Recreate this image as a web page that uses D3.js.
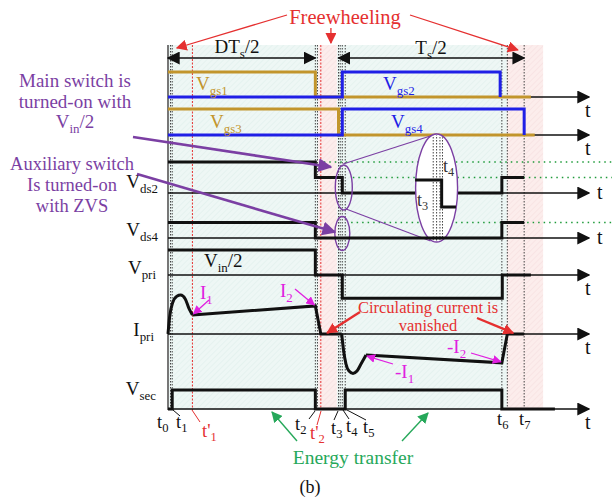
<!DOCTYPE html>
<html>
<head>
<meta charset="utf-8">
<script src="https://cdn.jsdelivr.net/npm/d3@7"></script>
<style>
  body { margin: 0; background: #fff; }
  svg { display: block; font-family: "Liberation Serif", "DejaVu Serif", serif; }
</style>
</head>
<body>
<div id="chart"></div>
<script>
const W = 612, H = 500

// time in arbitrary units: 0 = t0, 100 = tip of the "t" arrows
const gridTimes = [0.6, 1.0, 35.0, 35.5, 40.5, 40.9, 41.4, 42.1, 79.3, 80.6, 84.6]
const primeTimes = [5.8, 36.3]            // t'1, t'2
const transferSpans = [[0, 35.7], [40.1, 80.5]]
const freewheelSpans = [[35.7, 40.1], [80.5, 89.1]]

// gate signals [time, level]
const vgs1 = [[0, 1], [35.0, 1], [35.0, 0], [86.2, 0]]
const vgs2 = [[0, 0], [41.4, 0], [41.4, 1], [78.9, 1], [78.9, 0]]
const vgs3 = [[0, 1], [40.5, 1], [40.5, 0], [87.1, 0]]
const vgs4 = [[0, 0], [41.4, 0], [41.4, 1], [84.6, 1], [84.6, 0]]

// drain-source voltages (1 = Vin)
const vds2 = [[0, 1], [35.0, 1], [35.0, 0.5], [41.4, 0.5], [41.4, 0], [79.3, 0], [79.3, 0.5], [84.6, 0.5]]
const vds4 = [[0, 0.5], [35.0, 0.5], [35.0, 0], [79.3, 0], [79.3, 0.5], [84.6, 0.5]]
const vds2Zoom = [[58.7, 0.42], [65.0, 0.42], [65.0, -0.45], [68.4, -0.45]]
const zoomTimes = [63.0, 63.8, 64.6, 65.2]
const greenLevels = [['vds2', 1, 37.0], ['vds2', 0.5, 43.9], ['vds4', 0.5, 43.5]]

// primary voltage, primary current, secondary voltage
const vpri = [[0, 1], [35.0, 1], [35.0, 0], [41.4, 0], [41.4, -0.93], [79.4, -0.93], [79.4, 0], [86.2, 0]]
const ipriHumpPos = [[0, 0], [0.4, 0.45], [1.1, 0.8], [2.1, 0.97], [3.0, 1.0], [4.1, 0.9], [5.0, 0.65], [5.8, 0.49]]
const ipriFlatPos = [[5.8, 0.49], [35.0, 0.72], [36.3, 0], [41.26, 0]]
const ipriHumpNeg = [[41.26, 0], [41.69, -0.41], [42.28, -0.77], [42.99, -0.95], [43.94, -1.01], [44.89, -0.95], [45.84, -0.77], [47.03, -0.54]]
const ipriFlatNeg = [[47.03, -0.54], [79.3, -0.74], [80.6, 0], [84.6, 0]]
const vsec = [[0, 0], [1.0, 0], [1.0, 1], [35.0, 1], [35.0, 0], [42.1, 0], [42.1, 1], [79.3, 1], [79.3, 0], [91.9, 0]]

const rowNames = ['vgs12', 'vgs34', 'vds2', 'vds4', 'vpri', 'ipri', 'vsec']
const bottomLabels = [
  ['t', '0', 0, '#111'], ['t', '1', 1.0, '#111'], ["t'", '1', 5.8, '#e53030'],
  ['t', '2', 35.0, '#111'], ["t'", '2', 36.3, '#e53030'], ['t', '3', 40.5, '#111'],
  ['t', '4', 41.4, '#111'], ['t', '5', 42.1, '#111'], ['t', '6', 79.3, '#111'], ['t', '7', 84.6, '#111']
]

// layout
const ROW = {
  vgs12: { base: 97, amp: 25, tPos: 'below' },
  vgs34: { base: 135, amp: 26, tPos: 'below' },
  vds2: { base: 193, amp: 31, tPos: 'right' },
  vds4: { base: 238, amp: 31, tPos: 'right' },
  vpri: { base: 275, amp: 25, tPos: 'below' },
  ipri: { base: 334, amp: 39, tPos: 'below' },
  vsec: { base: 409, amp: 19, tPos: 'below' }
}
const TOP = 45, BOTTOM = 410
const RED = '#e53030', GOLD = '#c2952c', BLUE = '#1f1fe6', PURPLE = '#7b3fa3', MAG = '#e020e0', GREEN = '#26a85a'

const x = d3.scaleLinear().domain([0, 100]).range([168, 589])
const yRow = {}
rowNames.forEach(r => {
  yRow[r] = d3.scaleLinear().domain([0, 1]).range([ROW[r].base, ROW[r].base - ROW[r].amp])
})

const svg = d3.select('#chart').append('svg').attr('width', W).attr('height', H)
const defs = svg.append('defs')

function marker(id, color, size) {
  defs.append('marker').attr('id', id)
    .attr('viewBox', '0 0 10 10').attr('refX', 9).attr('refY', 5)
    .attr('markerUnits', 'userSpaceOnUse')
    .attr('markerWidth', size).attr('markerHeight', size)
    .attr('orient', 'auto-start-reverse')
    .append('path').attr('d', 'M0,0 L10,5 L0,10 Z').attr('fill', color)
}
marker('ak', '#111', 13)
marker('ar', RED, 11)
marker('ap', PURPLE, 14)
marker('am', MAG, 9)
marker('ag', GREEN, 11)

function hatch(id, bg, fg) {
  const p = defs.append('pattern').attr('id', id).attr('patternUnits', 'userSpaceOnUse')
    .attr('width', 4).attr('height', 4).attr('patternTransform', 'rotate(45)')
  p.append('rect').attr('width', 4).attr('height', 4).attr('fill', bg)
  p.append('line').attr('x1', 0).attr('y1', 0).attr('x2', 0).attr('y2', 4).attr('stroke', fg).attr('stroke-width', 1.2)
}
hatch('hc', '#eef7f5', '#e0f0ec')
hatch('hp', '#fcedec', '#f6dfdf')

// shaded intervals
svg.selectAll('rect.tr').data(transferSpans).enter().append('rect')
  .attr('x', d => x(d[0])).attr('width', d => x(d[1]) - x(d[0]))
  .attr('y', TOP).attr('height', BOTTOM - TOP).attr('fill', 'url(#hc)')
svg.selectAll('rect.fw').data(freewheelSpans).enter().append('rect')
  .attr('x', d => x(d[0])).attr('width', d => x(d[1]) - x(d[0]))
  .attr('y', TOP).attr('height', BOTTOM - TOP).attr('fill', 'url(#hp)')

// grid of event lines
svg.selectAll('line.grid').data(gridTimes).enter().append('line')
  .attr('x1', d => x(d)).attr('x2', d => x(d)).attr('y1', TOP).attr('y2', BOTTOM)
  .attr('stroke', '#444').attr('stroke-width', 1).attr('stroke-dasharray', '1.5,1.5')
svg.selectAll('line.prime').data(primeTimes).enter().append('line')
  .attr('x1', d => x(d)).attr('x2', d => x(d)).attr('y1', TOP).attr('y2', BOTTOM)
  .attr('stroke', RED).attr('stroke-width', 1).attr('stroke-dasharray', '2,1.5')

// left vertical axis
svg.append('line').attr('x1', x(0)).attr('x2', x(0)).attr('y1', TOP).attr('y2', BOTTOM)
  .attr('stroke', '#777').attr('stroke-width', 2)

// time axes
rowNames.forEach(r => {
  const yb = ROW[r].base
  svg.append('line').attr('x1', x(0)).attr('x2', x(100)).attr('y1', yb).attr('y2', yb)
    .attr('stroke', '#111').attr('stroke-width', 1.6).attr('marker-end', 'url(#ak)')
  const tx = ROW[r].tPos === 'right' ? x(100) + 8 : x(100) - 4
  const ty = ROW[r].tPos === 'right' ? yb + 6 : yb + 20
  svg.append('text').attr('x', tx).attr('y', ty).attr('font-size', 20).attr('fill', '#111').text('t')
})

// green reference levels
svg.selectAll('line.lev').data(greenLevels).enter().append('line')
  .attr('x1', d => x(d[2])).attr('x2', W)
  .attr('y1', d => yRow[d[0]](d[1])).attr('y2', d => yRow[d[0]](d[1]))
  .attr('stroke', '#1e9a3a').attr('stroke-width', 1.6).attr('stroke-dasharray', '1.5,4')

function wave(data, row, color, width, curve) {
  const line = d3.line().x(d => x(d[0])).y(d => yRow[row](d[1])).curve(curve || d3.curveLinear)
  return svg.append('path').attr('d', line(data)).attr('fill', 'none')
    .attr('stroke', color).attr('stroke-width', width).attr('stroke-linejoin', 'miter')
}

wave(vgs1, 'vgs12', GOLD, 3)
wave(vgs2, 'vgs12', BLUE, 3)
wave(vgs3, 'vgs34', GOLD, 3)
wave(vgs4, 'vgs34', BLUE, 3)
wave(vds2, 'vds2', '#111', 3)

// magnified view of the Vds2 edge
const bigE = { cx: x(63.8), cy: 188, rx: 21, ry: 54 }
svg.append('line').attr('x1', x(41.6)).attr('y1', 164).attr('x2', bigE.cx).attr('y2', bigE.cy - bigE.ry)
  .attr('stroke', PURPLE).attr('stroke-width', 1.2)
svg.append('line').attr('x1', x(42.3)).attr('y1', 209).attr('x2', bigE.cx - 6).attr('y2', bigE.cy + bigE.ry - 1)
  .attr('stroke', PURPLE).attr('stroke-width', 1.2)
svg.append('ellipse').attr('cx', bigE.cx).attr('cy', bigE.cy).attr('rx', bigE.rx).attr('ry', bigE.ry)
  .attr('fill', '#fff').attr('stroke', PURPLE).attr('stroke-width', 1.4)
defs.append('clipPath').attr('id', 'bigclip').append('ellipse')
  .attr('cx', bigE.cx).attr('cy', bigE.cy).attr('rx', bigE.rx - 1).attr('ry', bigE.ry - 1)
svg.append('g').attr('clip-path', 'url(#bigclip)')
  .selectAll('line').data(zoomTimes).enter().append('line')
  .attr('x1', d => x(d)).attr('x2', d => x(d)).attr('y1', bigE.cy - bigE.ry).attr('y2', bigE.cy + bigE.ry)
  .attr('stroke', '#444').attr('stroke-width', 1).attr('stroke-dasharray', '1.5,1.5')
wave(vds2Zoom, 'vds2', '#111', 3)

// small ellipses around the switching edges
svg.append('ellipse').attr('cx', x(41.4) + 1.5).attr('cy', 187.5).attr('rx', 8.5).attr('ry', 22.5)
  .attr('fill', 'none').attr('stroke', PURPLE).attr('stroke-width', 1.4)
svg.append('ellipse').attr('cx', x(41.4)).attr('cy', 233.5).attr('rx', 7.5).attr('ry', 17)
  .attr('fill', 'none').attr('stroke', PURPLE).attr('stroke-width', 1.4)

wave(vds4, 'vds4', '#111', 3)
wave(vpri, 'vpri', '#111', 3)
wave(ipriHumpPos, 'ipri', '#111', 3, d3.curveMonotoneX)
wave(ipriFlatPos, 'ipri', '#111', 3)
wave(ipriHumpNeg, 'ipri', '#111', 3, d3.curveMonotoneX)
wave(ipriFlatNeg, 'ipri', '#111', 3)
wave(vsec, 'vsec', '#111', 3)

// rich text with subscripts
function rich(px, py, parts, color, size, anchor) {
  const t = svg.append('text').attr('x', px).attr('y', py).attr('fill', color)
    .attr('font-size', size).attr('text-anchor', anchor || 'start')
  let shift = 0
  parts.forEach(p => {
    const s = t.append('tspan').text(p[0])
    const want = p[1] ? Math.round(size * 0.24) : 0
    if (want !== shift) { s.attr('dy', want - shift); shift = want }
    if (p[1]) s.attr('font-size', size * 0.68)
  })
  return t
}

function arrow(x1, y1, x2, y2, color, w, m) {
  svg.append('line').attr('x1', x1).attr('y1', y1).attr('x2', x2).attr('y2', y2)
    .attr('stroke', color).attr('stroke-width', w).attr('marker-end', `url(#${m})`)
}

// period arrows
svg.append('line').attr('x1', x(0)).attr('x2', x(35.0)).attr('y1', 58).attr('y2', 58)
  .attr('stroke', '#111').attr('stroke-width', 1.6)
  .attr('marker-start', 'url(#ak)').attr('marker-end', 'url(#ak)')
svg.append('line').attr('x1', x(40.5)).attr('x2', x(84.6)).attr('y1', 58).attr('y2', 58)
  .attr('stroke', '#111').attr('stroke-width', 1.6)
  .attr('marker-start', 'url(#ak)').attr('marker-end', 'url(#ak)')
rich(237, 53, [['DT'], ['s', 1], ['/2']], '#111', 19, 'middle')
rich(431, 54, [['T'], ['s', 1], ['/2']], '#111', 19, 'middle')

// freewheeling annotation
svg.append('text').attr('x', 345).attr('y', 24).attr('text-anchor', 'middle')
  .attr('font-size', 20.5).attr('fill', RED).text('Freewheeling')
arrow(287, 15, x(2.1), 48, RED, 1.3, 'ar')
arrow(x(38.7), 28, x(38.7), 43, RED, 1.3, 'ar')
arrow(410, 15, x(83.1), 50, RED, 1.3, 'ar')

// signal names
rich(196, 90, [['V'], ['gs1', 1]], GOLD, 19)
rich(210, 128, [['V'], ['gs3', 1]], GOLD, 19)
rich(383, 90, [['V'], ['gs2', 1]], BLUE, 19)
rich(391, 128, [['V'], ['gs4', 1]], BLUE, 19)
rich(158, 188, [['V'], ['ds2', 1]], '#111', 19, 'end')
rich(158, 236, [['V'], ['ds4', 1]], '#111', 19, 'end')
rich(156, 274, [['V'], ['pri', 1]], '#111', 19, 'end')
rich(154, 336, [['I'], ['pri', 1]], '#111', 19, 'end')
rich(156, 395, [['V'], ['sec', 1]], '#111', 19, 'end')
rich(204, 267, [['V'], ['in', 1], ['/2']], '#111', 19)

// purple notes
const purpleLines1 = ['Main switch is', 'turned-on with']
purpleLines1.forEach((s, i) => {
  svg.append('text').attr('x', 75).attr('y', 87 + i * 21).attr('text-anchor', 'middle')
    .attr('font-size', 19).attr('fill', PURPLE).text(s)
})
rich(75, 128, [['V'], ['in', 1], ['/2']], PURPLE, 19, 'middle')
const purpleLines2 = ['Auxiliary switch', 'Is turned-on', 'with ZVS']
purpleLines2.forEach((s, i) => {
  svg.append('text').attr('x', 72).attr('y', 170 + i * 21).attr('text-anchor', 'middle')
    .attr('font-size', 18.5).attr('fill', PURPLE).text(s)
})
arrow(133, 137, 331, 167, PURPLE, 2.6, 'ap')
arrow(137, 174, 335, 232, PURPLE, 2.6, 'ap')

// magnified labels
rich(417, 206, [['t'], ['3', 1]], '#333', 18)
rich(443, 172, [['t'], ['4', 1]], '#333', 18)

// current labels
rich(200, 299, [['I'], ['1', 1]], MAG, 19)
arrow(209, 300, x(5.8) + 1, yRow.ipri(0.49) - 1, MAG, 1.3, 'am')
rich(280, 297, [['I'], ['2', 1]], MAG, 19)
arrow(295, 289, x(35.0) - 1, yRow.ipri(0.72) - 1, MAG, 1.3, 'am')
rich(395, 378, [['-I'], ['1', 1]], MAG, 19)
arrow(393, 364, x(47.03) + 1, yRow.ipri(-0.54) + 1, MAG, 1.3, 'am')
rich(447, 353, [['-I'], ['2', 1]], MAG, 19)
arrow(471, 353, x(79.3) - 1, yRow.ipri(-0.74) - 1, MAG, 1.3, 'am')

// circulating current note
svg.append('text').attr('x', 428).attr('y', 313).attr('text-anchor', 'middle')
  .attr('font-size', 16.5).attr('fill', RED).text('Circulating current is')
svg.append('text').attr('x', 428).attr('y', 331).attr('text-anchor', 'middle')
  .attr('font-size', 16.5).attr('fill', RED).text('vanished')
arrow(360, 312, x(37.8), yRow.ipri(0) - 1, RED, 2.4, 'ar')
arrow(477, 318, x(82.0), yRow.ipri(0) - 1, RED, 2.4, 'ar')

// event labels under the Vsec axis
const labelPos = [
  [157, 428, null], [176, 428, [173, 410, 180, 416]], [202, 437, [192, 410, 200, 422]],
  [295, 430, [315, 411, 309, 419]], [310, 439, [321, 411, 317, 425]], [331, 434, [338, 411, 334, 420]],
  [346, 432, [343, 410, 349, 419]], [363, 433, [347, 410, 366, 420]], [497, 425, null], [519, 425, null]
]
bottomLabels.forEach((d, i) => {
  const p = labelPos[i]
  if (p[2]) {
    svg.append('line').attr('x1', p[2][0]).attr('y1', p[2][1]).attr('x2', p[2][2]).attr('y2', p[2][3])
      .attr('stroke', d[3]).attr('stroke-width', 1)
  }
  rich(p[0], p[1], [[d[0]], [d[1], 1]], d[3], 18.5)
})

// energy transfer
svg.append('text').attr('x', 353).attr('y', 464).attr('text-anchor', 'middle')
  .attr('font-size', 19.5).attr('fill', GREEN).text('Energy transfer')
arrow(297, 441, 272, 412, GREEN, 1.4, 'ag')
arrow(402, 441, 428, 413, GREEN, 1.4, 'ag')

svg.append('text').attr('x', 310).attr('y', 493).attr('text-anchor', 'middle')
  .attr('font-size', 18).attr('fill', '#111').text('(b)')
</script>
</body>
</html>
